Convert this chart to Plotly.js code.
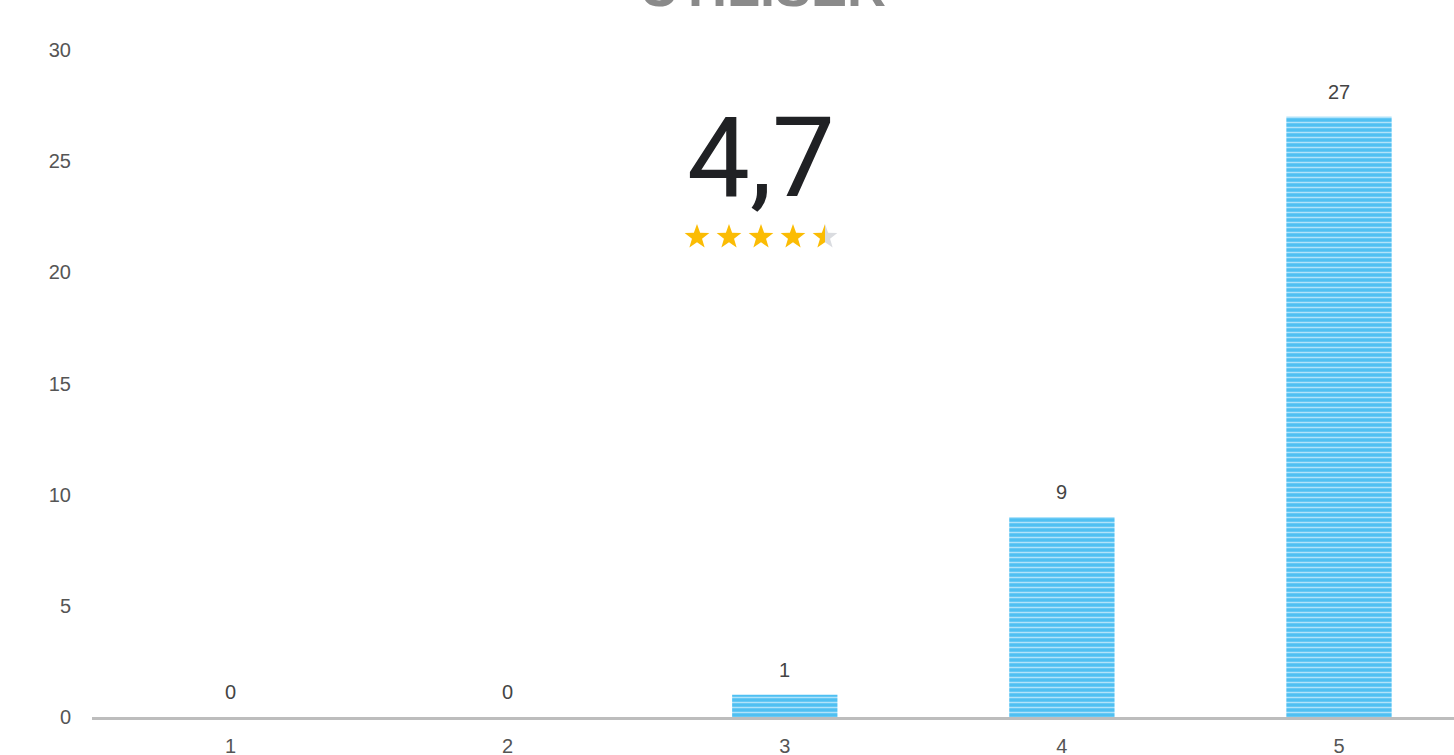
<!DOCTYPE html>
<html><head><meta charset="utf-8">
<script src="https://cdn.plot.ly/plotly-3.0.1.min.js"></script>
<style>html,body{margin:0;padding:0;overflow:hidden;background:#fff}</style>
</head><body>
<div id="chart" style="width:1454px;height:755px"></div>
<script>
const categories = [1, 2, 3, 4, 5];
const counts = [0, 0, 1, 9, 27];
const tickLabels = ['1', '2', '3', '4', '5'];
const yTicks = [0, 5, 10, 15, 20, 25, 30];
const averageText = '4,7';
const averageValue = 4.7;
const titleText = 'UTILISER';

const W = 1454, H = 755, mL = 92, mR = 0, mT = 50, mB = 38;
const pw = W - mL - mR, ph = H - mT - mB;
function px2paperX(px){ return (px - mL) / pw; }
function px2paperY(py){ return (H - mB - py) / ph; }

function starPath(cx, cy, R, r, half){
  const pts = [];
  for (let i = 0; i < 10; i++){
    const a = -Math.PI/2 + i*Math.PI/5;
    const rad = i % 2 === 0 ? R : r;
    pts.push([cx + rad*Math.cos(a), cy + rad*Math.sin(a)]);
  }
  let poly = pts;
  if (half !== 0){
    const inside = p => half < 0 ? p[0] <= cx + 1e-9 : p[0] >= cx - 1e-9;
    const out = [];
    for (let i = 0; i < pts.length; i++){
      const A = pts[i], B = pts[(i+1)%pts.length];
      const ia = inside(A), ib = inside(B);
      if (ia) out.push(A);
      if (ia !== ib){
        const t = (cx - A[0])/(B[0]-A[0]);
        out.push([cx, A[1] + t*(B[1]-A[1])]);
      }
    }
    poly = out;
  }
  return 'M' + poly.map(p => px2paperX(p[0]).toFixed(5) + ',' + px2paperY(p[1]).toFixed(5)).join('L') + 'Z';
}

const shapes = [];
const starCenters = [697, 729, 761, 793, 825];
const starY = 237, R = 13, r = 5.3;
starCenters.forEach((cx, i) => {
  const fill = averageValue - i;
  if (fill >= 1){
    shapes.push({type:'path', xref:'paper', yref:'paper', path: starPath(cx, starY, R, r, 0), fillcolor:'#fbbc04', line:{width:0}});
  } else {
    shapes.push({type:'path', xref:'paper', yref:'paper', path: starPath(cx, starY, R, r, 1), fillcolor:'#dadce0', line:{width:0}});
    shapes.push({type:'path', xref:'paper', yref:'paper', path: starPath(cx, starY, R, r, -1), fillcolor:'#fbbc04', line:{width:0}});
  }
});

const annotations = categories.map((c, i) => ({
  x: c, y: counts[i], xref:'x', yref:'y', text: String(counts[i]),
  showarrow:false, yanchor:'bottom', yshift: 12,
  font:{family:'Liberation Sans, Arial, sans-serif', size:20, color:'#444'}
}));
annotations.push({
  x: px2paperX(761), y: px2paperY(157), xref:'paper', yref:'paper', text: averageText,
  showarrow:false, xanchor:'center', yanchor:'middle',
  font:{family:'Roboto, sans-serif', size:112, color:'#202124'}
});
annotations.push({
  x: px2paperX(763), y: 1, xref:'paper', yref:'paper', text: '<b>' + titleText + '</b>',
  showarrow:false, xanchor:'center', yanchor:'bottom', yshift: 31,
  font:{family:'Liberation Sans, Arial, sans-serif', size:54, color:'#8a8a8a'}
});

const trace = {
  type:'bar', x: categories, y: counts, width: 0.38,
  marker:{color:'#4fc0f2', line:{width:0},
    pattern:{shape:'-', bgcolor:'#4fc0f2', fgcolor:'#b0e3fa', size:5, solidity:0.3, fillmode:'replace'}},
  hoverinfo:'none'
};

const layout = {
  width: W, height: H,
  margin:{l:mL, r:mR, t:mT, b:mB, pad:0},
  paper_bgcolor:'#fff', plot_bgcolor:'#fff',
  showlegend:false,
  xaxis:{range:[0.5, 5.415], tickvals: categories, ticktext: tickLabels,
    showgrid:false, zeroline:false, showline:true, linecolor:'#bdbdbd', linewidth:3,
    ticks:'', ticklabelstandoff: 9,
    tickfont:{family:'Liberation Sans, Arial, sans-serif', size:20, color:'#555'}},
  yaxis:{range:[0, 30], tickvals: yTicks, showgrid:false, zeroline:false, showline:false,
    ticks:'', ticklabelstandoff: 20,
    tickfont:{family:'Liberation Sans, Arial, sans-serif', size:20, color:'#555'}},
  shapes: shapes,
  annotations: annotations
};

Plotly.newPlot('chart', [trace], layout, {displayModeBar:false, staticPlot:true});
</script>
</body></html>
